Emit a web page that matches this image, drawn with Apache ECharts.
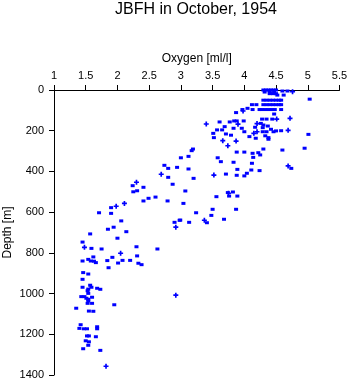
<!DOCTYPE html>
<html><head><meta charset="utf-8">
<script src="https://cdn.jsdelivr.net/npm/echarts@6/dist/echarts.min.js"></script>
<style>html,body{margin:0;padding:0;background:#fff}#c{width:350px;height:384px}</style>
</head><body><div id="c"></div>
<script>
const titleText = 'JBFH in October, 1954';
const xName = 'Oxygen [ml/l]';
const yName = 'Depth [m]';
// square markers
const oxSq = [
4.30,4.34,4.38,4.42,4.46,4.50,
4.60,4.68,
4.32,4.40,4.47,
4.40,4.45,4.50,
4.52,4.62,
5.03,
4.30,4.35,4.40,4.45,4.50,4.55,4.58,
4.12,4.19,4.30,4.35,4.40,4.45,4.50,4.55,4.58,
4.05,
3.97,4.13,4.24,4.28,4.33,4.38,4.43,4.48,4.58,
3.87,4.47,
4.28,4.35,4.44,
3.99,3.88,3.84,
4.26,4.30,3.61,3.77,3.69,4.37,4.17,4.29,3.96,3.83,4.42,3.57,3.65,4.50,4.58,
4.00,4.29,4.35,4.46,3.51,3.71,5.01,3.79,4.33,4.08,4.38,3.52,4.18,4.38,
4.95,4.30,3.19,4.60,3.17,3.88,4.00,4.22,4.13,4.25,3.12,4.14,3.58,3.00,
3.63,3.83,4.12,2.74,2.94,2.80,4.74,3.12,3.89,4.11,4.24,4.04,3.71,3.88,4.00,
2.80,3.20,2.87,2.24,2.41,2.31,3.07,2.25,3.82,3.74,3.76,3.89,3.56,2.60,2.49,
2.41,2.79,3.04,1.90,3.50,3.87,3.24,1.71,1.90,3.48,3.68,2.99,2.98,2.06,3.13,
2.90,3.41,1.94,1.85,2.14,1.57,2.00,1.45,2.30,1.59,1.75,2.63,2.31,1.62,1.92,
1.54,2.08,2.20,1.84,1.45,1.58,1.63,1.66,2.01,2.33,2.38,1.86,1.46,1.54,1.45,
1.57,1.45,1.59,1.68,1.54,1.73,1.53,1.54,1.43,1.48,1.60,1.51,1.54,1.54,1.53,
1.60,1.95,1.35,1.55,1.62,1.42,1.68,1.40,1.47,1.52,1.68,1.52,1.55,1.66,1.50,
1.55,1.54,1.46,1.73
];
const depthSq = [
0,0,0,0,0,0,
5,5,
10,10,10,
18,18,18,
25,25,
45,
50,50,50,50,50,50,50,
72,72,72,72,72,72,72,72,72,
90,
96,96,96,96,96,96,96,96,96,
111,118,
143,143,143,
152,152,152,
164,172,157,157,180,177,183,185,188,188,193,196,196,201,200,
205,205,205,205,213,216,218,222,225,229,234,234,237,242,
286,290,290,295,298,305,305,308,311,319,326,331,333,333,
352,355,360,370,380,385,385,388,390,393,396,409,413,419,422,
429,434,463,470,478,495,496,500,501,504,521,521,524,526,532,
545,545,557,578,586,586,603,603,606,616,635,639,640,643,650,
650,652,674,684,696,707,728,747,770,778,781,781,815,820,822,
832,837,837,838,840,840,841,848,850,851,858,873,897,904,930,
959,969,969,974,978,979,986,999,1015,1015,1018,1023,1028,1036,1048,
1048,1055,1072,1086,1087,1153,1163,1171,1173,1173,1173,1208,1208,1212,1232,
1237,1254,1271,1279
];
// plus-shaped markers
const oxPl = [4.76,3.90,4.72,4.69,4.51,3.66,3.74,3.87,3.52,4.69,2.69,2.30,2.11,2.92,3.37,3.75,1.48,2.05,1.82,2.92,3.40,4.15,4.20,3.98,4.20,1.98];
const depthPl = [8,168,139,198,143,249,274,251,418,373,414,453,557,674,640,507,773,802,1357,1008,167,213,205,103,165,571];

const xTicks = {min:1, max:5.5, interval:0.5};
const yTicks = {min:0, max:1400, interval:200};

const chart = echarts.init(document.getElementById('c'), null, {renderer:'canvas'});
const font = 'Liberation Sans, Arial, Helvetica, sans-serif';
chart.setOption({
  animation:false,
  title:{text:titleText,left:196,textAlign:'center',top:2,padding:0,
    textStyle:{fontSize:16,fontWeight:'normal',color:'#000',fontFamily:font}},
  grid:{left:54,top:90,right:10.5,bottom:9,outerBoundsMode:'none',containLabel:false},
  xAxis:{type:'value',position:'top',min:xTicks.min,max:xTicks.max,interval:xTicks.interval,
    name:xName,nameLocation:'middle',nameGap:23,
    nameTextStyle:{fontSize:12,color:'#000',fontFamily:font},
    axisLine:{show:true,onZero:false,lineStyle:{color:'#000',width:1}},
    axisTick:{show:true,length:5,lineStyle:{color:'#000'}},
    axisLabel:{fontSize:11,color:'#000',margin:9,fontFamily:font,
      formatter:v=>String(v)},
    splitLine:{show:false}},
  yAxis:{type:'value',inverse:true,min:yTicks.min,max:yTicks.max,interval:yTicks.interval,
    name:yName,nameLocation:'middle',nameGap:40,nameRotate:90,nameMoveOverlap:false,
    nameTextStyle:{fontSize:12,color:'#000',fontFamily:font},
    axisLine:{show:true,onZero:false,lineStyle:{color:'#000',width:1}},
    axisTick:{show:true,length:5,lineStyle:{color:'#000'}},
    axisLabel:{fontSize:11,color:'#000',margin:10,fontFamily:font,
      formatter:v=>String(v)},
    splitLine:{show:false}},
  series:[
    {type:'scatter',symbol:'rect',symbolSize:[4,3],itemStyle:{color:'#0000ff',opacity:1},
     data:oxSq.map((v,i)=>[v,depthSq[i]])},
    {type:'scatter',symbol:'path://M1 0H2V1H3V2H2V3H1V2H0V1H1Z',symbolSize:5,itemStyle:{color:'#0000ff',opacity:1},
     data:oxPl.map((v,i)=>[v,depthPl[i]])}
  ]
});
</script></body></html>
